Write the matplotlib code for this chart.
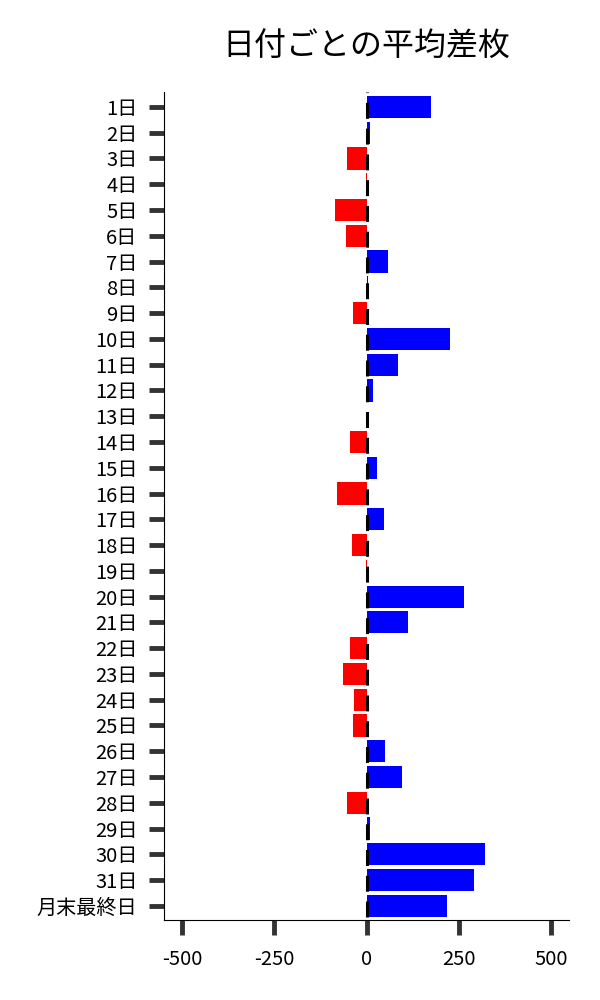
import numpy as np
import matplotlib
matplotlib.use("Agg")
import matplotlib.pyplot as plt

plt.rcParams['font.family'] = ['Noto Sans CJK JP', 'DejaVu Sans']
plt.rcParams['axes.unicode_minus'] = False
plt.rcParams['lines.scale_dashes'] = False

# 日付ラベルと平均差枚
days = [f"{i}日" for i in range(1, 32)] + ["月末最終日"]
avg_diff = [175, 8, -52, -2, -87, -57, 57, 4, -38, 225,
            86, 16, 1, -46, 27, -81, 46, -41, -1, 265,
            111, -46, -65, -33, -38, 51, 95, -54, 10, 322,
            290, 219]
xticks = [-500, -250, 0, 250, 500]

colors = ['#0000ff' if v >= 0 else '#ff0000' for v in avg_diff]
ypos = np.arange(len(days))

fig = plt.figure(figsize=(6, 10), dpi=100)
ax = fig.add_axes([0.273, 0.08, 0.675, 0.828])

ax.barh(ypos, avg_diff, height=0.86, color=colors, zorder=2)
# ゼロ基準の破線
ax.axvline(0, color='black', linestyle=(16.4, (11.5, 7.05)), linewidth=2.2, zorder=3)

ax.set_yticks(ypos)
ax.set_yticklabels(days, fontsize=14.5)
ax.set_xticks(xticks)
ax.set_xticklabels([str(t) for t in xticks], fontsize=14.5)
ax.set_xlim(-550, 548)
ax.set_ylim(31.55, -0.58)

ax.spines['top'].set_visible(False)
ax.spines['right'].set_visible(False)
ax.tick_params(axis='both', length=11, width=3.5, color='#333333')
ax.tick_params(axis='y', pad=8)
ax.tick_params(axis='x', pad=10)

ax.set_title("日付ごとの平均差枚", fontsize=23, pad=26)

fig.savefig("out.png", dpi=100)
